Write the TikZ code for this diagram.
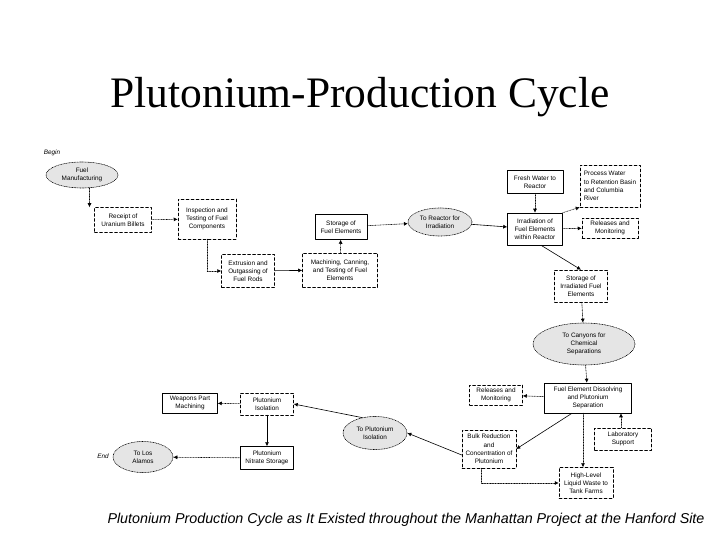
\documentclass[tikz,border=0pt]{standalone}
\usepackage{fontspec}
\setmainfont{Liberation Serif}
\setsansfont{Liberation Sans}
\usetikzlibrary{arrows.meta,shapes.geometric}

\tikzset{
  stepbox/.style={draw, densely dashed, line width=0.5pt, align=center,
    font=\sffamily\fontsize{6.4}{8.2}\selectfont, inner sep=0.5pt},
  ovalstep/.style={ellipse, draw, densely dotted, line width=0.6pt, fill=black!10,
    align=center, font=\sffamily\fontsize{6.4}{8.2}\selectfont, inner sep=0pt},
  flow/.style={densely dotted, line width=0.6pt, -{Latex[length=4pt,width=4pt]}},
  mainflow/.style={line width=0.6pt, -{Latex[length=4pt,width=4pt]}}
}

\begin{document}
\begin{tikzpicture}[x=1pt, y=-1pt, line cap=round, line join=round]

% --- page frame (720 x 540) ---
\useasboundingbox (0,0) rectangle (720,540);

% --- title and caption ---
\node (title) at (360,97) {\fontsize{43.5}{48}\selectfont Plutonium-Production Cycle};
\node (caption) at (406,520) {\sffamily\itshape\fontsize{14.3}{16}\selectfont Plutonium Production Cycle as It Existed throughout the Manhattan Project at the Hanford Site};

% --- fuel fabrication (top row) ---
\node[font=\sffamily\itshape\fontsize{6.4}{8}\selectfont] (begin) at (52,153) {Begin};
\node[ovalstep, minimum width=72, minimum height=26] (fuelman) at (82,175) {Fuel\\Manufacturing};
\node[stepbox, minimum width=57, minimum height=25] (receipt) at (123,220) {Receipt of\\Uranium Billets};
\node[stepbox, minimum width=58, minimum height=40] (inspect) at (207,219) {Inspection and\\Testing of Fuel\\Components};
\node[stepbox, minimum width=53, minimum height=33] (extrude) at (248,271) {Extrusion and\\Outgassing of\\Fuel Rods};
\node[stepbox, minimum width=75, minimum height=34] (canning) at (340,270) {Machining, Canning,\\and Testing of Fuel\\Elements};
\node[stepbox, solid, minimum width=52, minimum height=25] (fuelstore) at (341,227) {Storage of\\Fuel Elements};

% --- reactor ---
\node[ovalstep, minimum width=64, minimum height=28] (toreactor) at (440,222) {To Reactor for\\Irradiation};
\node[stepbox, solid, minimum width=56, minimum height=23] (freshwater) at (535,182) {Fresh Water to\\Reactor};
\node[stepbox, solid, minimum width=55, minimum height=32] (irradiate) at (535,229) {Irradiation of\\Fuel Elements\\within Reactor};
\node[stepbox, minimum width=60, minimum height=42, align=left] (procwater) at (610,186) {Process Water\\to Retention Basin\\and Columbia\\River};
\node[stepbox, minimum width=56, minimum height=20] (relreactor) at (610,228) {Releases and\\Monitoring};
\node[stepbox, minimum width=53, minimum height=32] (irrstore) at (581,286) {Storage of\\Irradiated Fuel\\Elements};

% --- chemical separations ---
\node[ovalstep, minimum width=102, minimum height=42] (tocanyon) at (584,344) {To Canyons for\\Chemical\\Separations};
\node[stepbox, solid, minimum width=87, minimum height=30] (dissolve) at (588,398) {Fuel Element Dissolving\\and Plutonium\\Separation};
\node[stepbox, minimum width=53, minimum height=20] (relcanyon) at (496,395) {Releases and\\Monitoring};
\node[stepbox, minimum width=57, minimum height=22] (labsup) at (623,439) {Laboratory\\Support};
\node[stepbox, minimum width=54, minimum height=38] (bulk) at (489,449) {Bulk Reduction\\and\\Concentration of\\Plutonium};
\node[stepbox, minimum width=54, minimum height=31] (tankwaste) at (586,483) {High-Level\\Liquid Waste to\\Tank Farms};

% --- plutonium isolation ---
\node[ovalstep, minimum width=64, minimum height=33] (topuiso) at (375,433) {To Plutonium\\Isolation};
\node[stepbox, minimum width=53, minimum height=22] (puiso) at (267,404) {Plutonium\\Isolation};
\node[stepbox, solid, minimum width=55, minimum height=20] (weapons) at (190,403) {Weapons Part\\Machining};
\node[stepbox, solid, minimum width=53, minimum height=23] (nitrate) at (267,458) {Plutonium\\Nitrate Storage};
\node[ovalstep, minimum width=60, minimum height=31] (losalamos) at (143,457) {To Los\\Alamos};
\node[font=\sffamily\itshape\fontsize{6.4}{8}\selectfont] (end) at (103,456) {End};

% --- connectors ---
\draw[flow] (fuelman.-60) -- (fuelman.-60 |- receipt.north);
\draw[flow] (receipt) -- (inspect);
\draw[flow] (inspect.south) |- (extrude.west);
\draw[mainflow] (extrude) -- (canning);
\draw[flow] (canning) -- (fuelstore);
\draw[flow] (fuelstore) -- (toreactor);
\draw[mainflow] (toreactor) -- (irradiate);
\draw[flow] (freshwater) -- (irradiate);
\draw[flow] (irradiate.north east) -- (procwater.south west);
\draw[flow] (irradiate) -- (relreactor);
\draw[mainflow] ([xshift=6]irradiate.south) -- (irrstore.north);
\draw[flow] (irrstore) -- (tocanyon);
\draw[flow] (tocanyon) -- (dissolve);
\draw[flow] (dissolve) -- (relcanyon);
\draw[flow] (labsup.north) ++(-2,0) -- ([xshift=33]dissolve.south);
\draw[mainflow] ([xshift=-16]dissolve.south) -- (bulk.east);
\draw[flow] ([xshift=-5]dissolve.south) -- ([xshift=-5]dissolve.south |- tankwaste.north);
\draw[flow] ([xshift=-8]bulk.south) |- (tankwaste.west);
\draw[mainflow] ([yshift=-6]bulk.west) -- (topuiso.east);
\draw[mainflow] (topuiso.130) -- (puiso.east);
\draw[flow] (puiso) -- (weapons);
\draw[mainflow] (puiso) -- (nitrate);
\draw[flow] (nitrate) -- (losalamos);

\end{tikzpicture}
\end{document}
